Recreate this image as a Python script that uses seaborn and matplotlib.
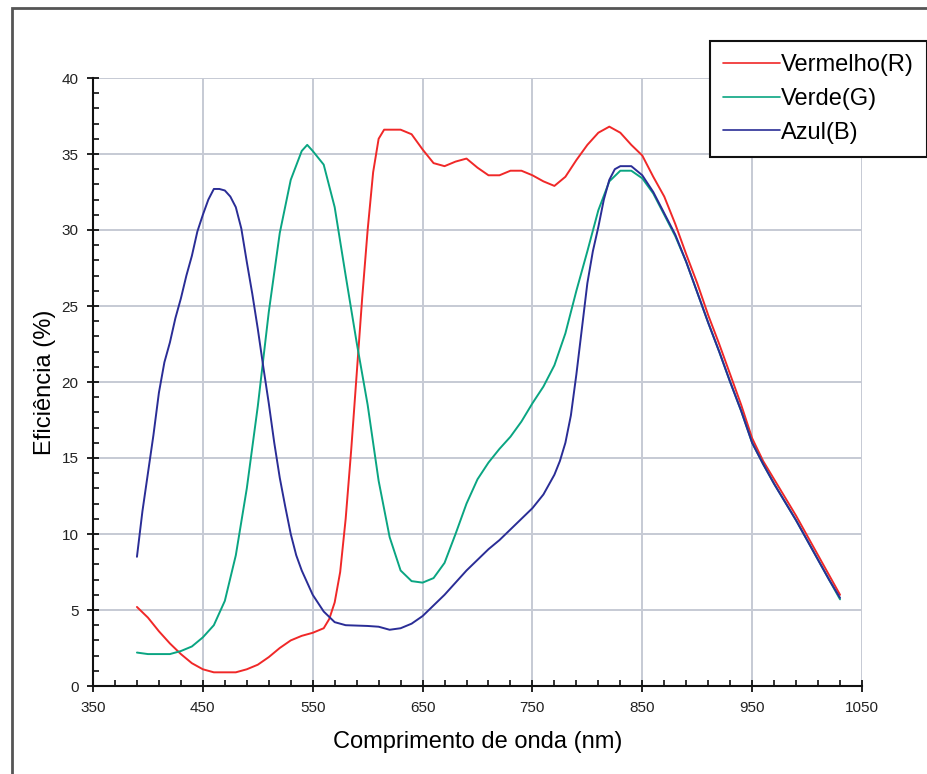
import numpy as np
import pandas as pd
import matplotlib
matplotlib.use('Agg')
import matplotlib.pyplot as plt
import seaborn as sns
from matplotlib.patches import Rectangle
from matplotlib.ticker import MultipleLocator

# Wavelength (nm) / efficiency (%) readings for each channel
red_nm = [390, 400, 410, 420, 430, 440, 450, 460, 470, 480, 490, 500, 510, 520, 530, 540, 550,
          560, 565, 570, 575, 580, 585, 590, 595, 600, 605, 610, 615, 630, 640, 650, 660, 670,
          680, 690, 700, 710, 720, 730, 740, 750, 760, 770, 780, 790, 800, 810, 820, 830, 840,
          850, 860, 870, 880, 890, 900, 910, 920, 930, 940, 950, 960, 970, 980, 990, 1000, 1010,
          1020, 1030]
red_eff = [5.2, 4.5, 3.6, 2.8, 2.1, 1.5, 1.1, 0.9, 0.9, 0.9, 1.1, 1.4, 1.9, 2.5, 3.0, 3.3, 3.5,
           3.8, 4.4, 5.5, 7.5, 11.0, 15.5, 20.5, 25.5, 30.0, 33.8, 36.0, 36.6, 36.6, 36.3, 35.3,
           34.4, 34.2, 34.5, 34.7, 34.1, 33.6, 33.6, 33.9, 33.9, 33.6, 33.2, 32.9, 33.5, 34.6,
           35.6, 36.4, 36.8, 36.4, 35.6, 34.9, 33.5, 32.2, 30.4, 28.4, 26.5, 24.4, 22.5, 20.5,
           18.5, 16.3, 14.8, 13.6, 12.4, 11.2, 9.9, 8.6, 7.3, 6.0]

green_nm = [390, 400, 410, 420, 430, 440, 450, 460, 470, 480, 490, 500, 510, 520, 530, 540, 545,
            550, 560, 570, 580, 590, 600, 610, 620, 630, 640, 650, 660, 670, 680, 690, 700, 710,
            720, 730, 740, 750, 760, 770, 780, 790, 800, 810, 820, 830, 840, 850, 860, 870, 880,
            890, 900, 910, 920, 930, 940, 950, 960, 970, 980, 990, 1000, 1010, 1020, 1030]
green_eff = [2.2, 2.1, 2.1, 2.1, 2.3, 2.6, 3.2, 4.0, 5.6, 8.6, 13.0, 18.4, 24.6, 29.8, 33.3, 35.2,
             35.6, 35.2, 34.3, 31.5, 27.0, 22.6, 18.5, 13.5, 9.8, 7.6, 6.9, 6.8, 7.1, 8.1, 10.0,
             12.0, 13.6, 14.7, 15.6, 16.4, 17.4, 18.6, 19.7, 21.1, 23.2, 26.0, 28.6, 31.3, 33.2,
             33.9, 33.9, 33.4, 32.4, 31.0, 29.6, 27.9, 25.9, 23.9, 22.0, 20.0, 18.1, 16.0, 14.6,
             13.3, 12.1, 10.9, 9.6, 8.3, 7.0, 5.7]

blue_nm = [390, 395, 400, 405, 410, 415, 420, 425, 430, 435, 440, 445, 450, 455, 460, 465, 470,
           475, 480, 485, 490, 495, 500, 505, 510, 515, 520, 525, 530, 535, 540, 545, 550, 560,
           570, 580, 600, 610, 620, 630, 640, 650, 660, 670, 680, 690, 700, 710, 720, 730, 740,
           750, 760, 770, 775, 780, 785, 790, 795, 800, 805, 810, 815, 820, 825, 830, 840, 850,
           860, 870, 880, 890, 900, 910, 920, 930, 940, 950, 960, 970, 980, 990, 1000, 1010,
           1020, 1030]
blue_eff = [8.5, 11.5, 14.0, 16.5, 19.3, 21.3, 22.6, 24.2, 25.5, 27.0, 28.3, 29.9, 31.0, 32.0,
            32.7, 32.7, 32.6, 32.2, 31.5, 30.1, 27.9, 25.8, 23.5, 21.0, 18.6, 16.0, 13.7, 11.8,
            10.0, 8.6, 7.6, 6.8, 6.0, 4.9, 4.2, 4.0, 3.95, 3.9, 3.7, 3.8, 4.1, 4.6, 5.3, 6.0,
            6.8, 7.6, 8.3, 9.0, 9.6, 10.3, 11.0, 11.7, 12.6, 13.9, 14.8, 16.0, 17.8, 20.5, 23.5,
            26.5, 28.6, 30.2, 32.0, 33.3, 34.0, 34.2, 34.2, 33.6, 32.5, 31.1, 29.7, 27.9, 25.9,
            23.9, 22.0, 20.0, 18.1, 16.0, 14.6, 13.3, 12.1, 10.9, 9.6, 8.3, 7.0, 5.8]

x_ticks = [350, 450, 550, 650, 750, 850, 950, 1050]
labels = ['Vermelho(R)', 'Verde(G)', 'Azul(B)']
colors = ['#f02828', '#0aa582', '#2a2d96']

sns.set_style('white', {'text.color': 'black', 'axes.labelcolor': 'black',
                        'xtick.color': '#222222', 'ytick.color': '#222222'})
plt.rcParams['font.family'] = ['Liberation Sans', 'DejaVu Sans']

fig = plt.figure(figsize=(9.28, 7.74), dpi=100)
ax = fig.add_axes([93 / 928, 1 - 686 / 774, (862 - 93) / 928, (686 - 78) / 774])

series = [(red_nm, red_eff), (green_nm, green_eff), (blue_nm, blue_eff)]
for (xs, ys), lab, col in zip(series, labels, colors):
    sns.lineplot(x=xs, y=ys, ax=ax, color=col, linewidth=1.4, label=lab)

ax.set_xlim(350, 1050)
ax.set_ylim(0, 40)
ax.set_xticks(x_ticks)
ax.set_xticks(np.arange(350, 1051, 20), minor=True)
ax.yaxis.set_major_locator(MultipleLocator(5))
ax.yaxis.set_minor_locator(MultipleLocator(1))
ax.grid(True, which='major', color='#c6cad4', linewidth=1.4)
ax.set_axisbelow(True)

for s in ['top', 'right']:
    ax.spines[s].set_visible(False)
for s in ['left', 'bottom']:
    ax.spines[s].set_color('#111111')
    ax.spines[s].set_linewidth(1.5)

ax.tick_params(which='major', direction='inout', length=9, width=1.3, color='#111111',
               labelsize=11, pad=6, left=True, bottom=True)
ax.tick_params(which='minor', direction='in', length=4.5, width=1.2, color='#111111',
               left=True, bottom=True)

ax.set_xlabel('Comprimento de onda (nm)', fontsize=17, labelpad=12)
ax.set_ylabel('Eficiência (%)', fontsize=17, labelpad=4)

leg = ax.legend(loc='upper left', bbox_to_anchor=(710 / 928, 1 - 41 / 774),
                bbox_transform=fig.transFigure, fontsize=17, frameon=True, fancybox=False,
                framealpha=1, edgecolor='#111111', handlelength=2.4, handletextpad=0.05,
                labelspacing=0.5, borderpad=0.55, borderaxespad=0)
leg.get_frame().set_linewidth(1.5)
for line in leg.get_lines():
    line.set_linewidth(1.2)

# outer frame of the original picture (right/bottom edges fall outside)
fig.patches.append(Rectangle((12 / 928, -0.1), 1.5, 1.1 - 8 / 774,
                             transform=fig.transFigure, fill=False,
                             edgecolor='#555555', linewidth=2))

fig.savefig('out.png', dpi=100)
